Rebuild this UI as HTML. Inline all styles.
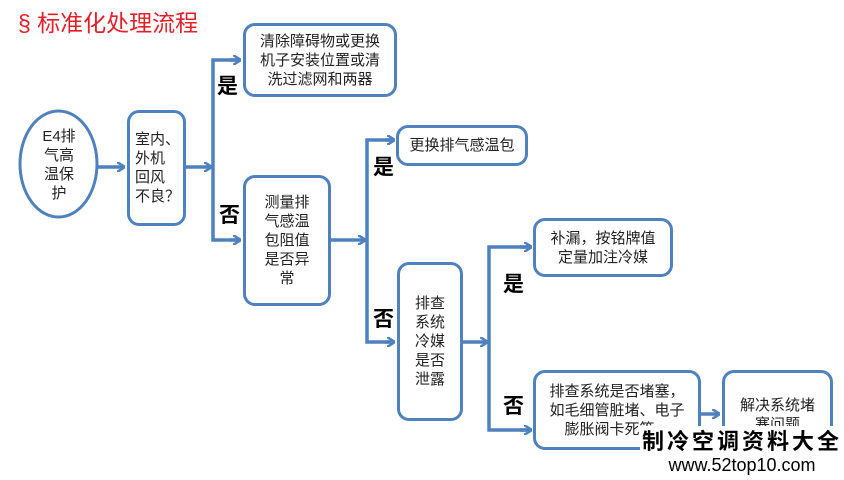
<!DOCTYPE html>
<html><head><meta charset="utf-8"><style>
body{margin:0;width:844px;height:480px;background:#fff;position:relative;overflow:hidden;font-family:"Liberation Sans","Noto Sans CJK SC",sans-serif}
.b{position:absolute;border:3px solid #4f81bd;border-radius:12px;box-sizing:border-box;display:flex;align-items:center;justify-content:center;text-align:center;font-size:15px;line-height:19px;color:#222;background:#fff}
.l{position:absolute;font-weight:bold;font-size:21px;color:#000;font-family:"Noto Sans CJK SC",sans-serif}
</style></head><body>
<div style="position:absolute;left:18px;top:4px;color:#e0202a;font-size:23px;font-family:'Liberation Sans','Noto Sans CJK SC',sans-serif">§ 标准化处理流程</div>
<svg width="844" height="480" style="position:absolute;left:0;top:0">
<defs><marker id="a" markerWidth="8" markerHeight="10" refX="7" refY="5" orient="auto" markerUnits="userSpaceOnUse"><path d="M0,0 L8,5 L0,10" fill="none" stroke="#4f81bd" stroke-width="2.5"/></marker></defs>
<g stroke="#4f81bd" stroke-width="3.5" fill="none">
<line x1="98" y1="167" x2="124" y2="167" marker-end="url(#a)"/>
<line x1="185" y1="167" x2="211" y2="167" marker-end="url(#a)"/>
<polyline points="240,60 213,60 213,240 240,240"/>
<line x1="230" y1="60" x2="240" y2="60" marker-end="url(#a)"/>
<line x1="230" y1="240" x2="240" y2="240" marker-end="url(#a)"/>
<line x1="330" y1="240" x2="365" y2="240" marker-end="url(#a)"/>
<polyline points="394,140 367,140 367,342 394,342"/>
<line x1="385" y1="140" x2="394" y2="140" marker-end="url(#a)"/>
<line x1="385" y1="342" x2="394" y2="342" marker-end="url(#a)"/>
<line x1="462" y1="342" x2="487" y2="342" marker-end="url(#a)"/>
<polyline points="531,247 489,247 489,430 531,430"/>
<line x1="520" y1="247" x2="531" y2="247" marker-end="url(#a)"/>
<line x1="520" y1="430" x2="531" y2="430" marker-end="url(#a)"/>
<line x1="700" y1="414" x2="719" y2="414" marker-end="url(#a)"/>
</g>
<ellipse cx="58.5" cy="164" rx="38.5" ry="53" fill="#fff" stroke="#4f81bd" stroke-width="3"/>
</svg>
<div class="b" style="left:26px;top:125px;width:66px;height:80px;border:none;background:none">E4排<br>气高<br>温保<br>护</div>
<div class="b" style="left:127px;top:110px;width:59px;height:116px;text-align:left;justify-content:flex-start;padding-left:5px">室内、<br>外机<br>回风<br>不良？</div>
<div class="b" style="left:243px;top:23px;width:154px;height:74px">清除障碍物或更换<br>机子安装位置或清<br>洗过滤网和两器</div>
<div class="b" style="left:243px;top:175px;width:88px;height:131px">测量排<br>气感温<br>包阻值<br>是否异<br>常</div>
<div class="b" style="left:396px;top:125px;width:132px;height:41px">更换排气感温包</div>
<div class="b" style="left:397px;top:262px;width:66px;height:159px">排查<br>系统<br>冷媒<br>是否<br>泄露</div>
<div class="b" style="left:533px;top:218px;width:140px;height:59px">补漏，按铭牌值<br>定量加注冷媒</div>
<div class="b" style="left:533px;top:370px;width:168px;height:80px">排查系统是否堵塞，<br>如毛细管脏堵、电子<br>膨胀阀卡死等。</div>
<div class="b" style="left:722px;top:370px;width:111px;height:90px">解决系统堵<br>塞问题</div>
<div class="l" style="left:217px;top:70px">是</div>
<div class="l" style="left:219px;top:199px">否</div>
<div class="l" style="left:373px;top:151px">是</div>
<div class="l" style="left:373px;top:303px">否</div>
<div class="l" style="left:503px;top:268px">是</div>
<div class="l" style="left:503px;top:390px">否</div>
<div style="position:absolute;left:640px;top:426px;width:204px;height:54px;background:#fff;text-align:center">
<div style="font-size:22px;font-weight:bold;letter-spacing:3px;line-height:28px;font-family:'Noto Sans CJK SC',sans-serif">制冷空调资料大全</div>
<div style="font-size:18px;line-height:20px;margin-top:1px">www.52top10.com</div>
</div>
</body></html>
